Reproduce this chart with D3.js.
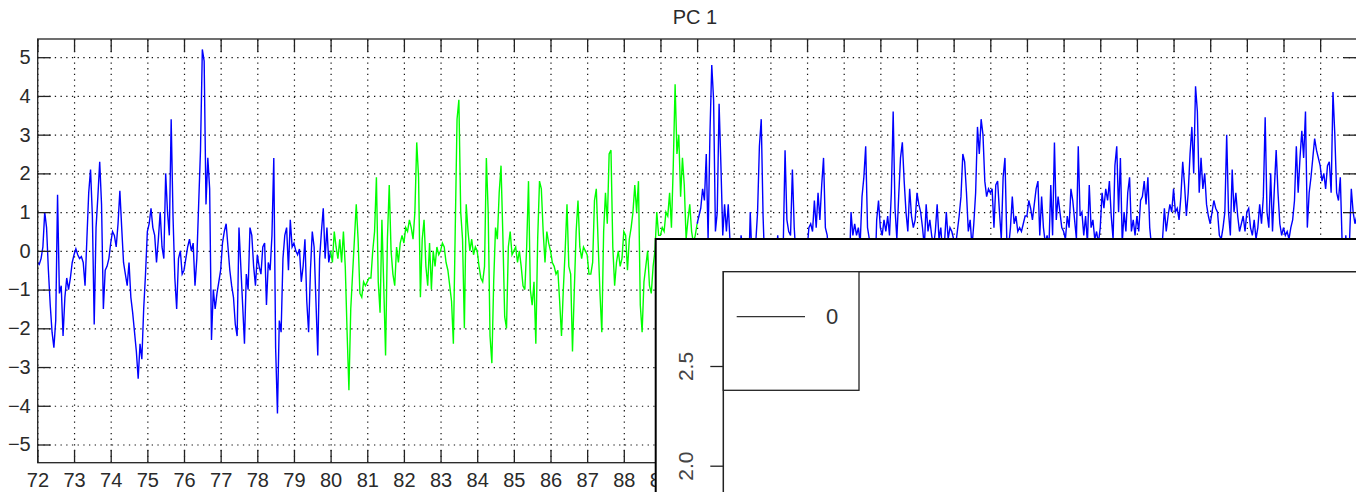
<!DOCTYPE html>
<html>
  <head>
    <meta charset="utf-8">
    <title>PC 1</title>
    <style>
      body {
        margin: 0;
        background: #fff;
      }
      svg {
        display: block;
        font-family: 'Liberation Sans', Arial, sans-serif;
      }
      .title {
        font-size: 20px;
        fill: #2a2a2a;
      }
      .axis path.domain {
        stroke: none;
      }
      .axis .tick line {
        stroke: #222;
        stroke-width: 1.3;
      }
      .axis .tick text {
        font-size: 20px;
        fill: #2a2a2a;
      }
      .grid path.domain {
        stroke: none;
      }
      .grid .tick line {
        stroke: #111;
        stroke-width: 1.2;
        stroke-dasharray: 1.3, 4.4;
      }
      .inset .tick text {
        font-size: 21px;
        fill: #444;
      }
    </style>
  </head>
  <body>
    <svg width="1356" height="492"></svg>
    <script src="https://d3js.org/d3.v7.min.js"></script>
    <script>
      // PC 1 scores, 20 samples per year
      const step = 0.05;

      const blueEarlyStart = 72;
      const blueEarly = [
        -0.3, -0.35, -0.2, 0.1, 1.0, 0.6, -0.5, -1.4, -2.1, -2.5, -1.8, 1.45, -1.1, -0.9, -2.2, -1.2, -0.7, -1.0, -0.7, -0.3,
        -0.1, 0.05, -0.1, -0.2, -0.15, -0.3, -0.9, 0.3, 1.5, 2.1, 0.9, -1.9, 0.6, 1.4, 2.3, 1.2, -1.5, -0.5, -0.4, -0.2,
        0.2, 0.5, 0.4, 0.1, 0.7, 1.55, 0.6, -0.3, -0.6, -0.9, -0.3, -1.2, -1.6, -2.1, -2.6, -3.3, -2.4, -2.8, -1.5, -0.6,
        0.5, 0.7, 1.1, 0.6, 0.4, -0.3, 0.3, 1.0, 0.1, -0.2, 2.0, 1.0, 0.4, 3.4, 0.9, -0.7, -1.5, -0.2, 0.0, -0.6,
        -0.5, -0.2, 0.1, 0.3, 0.0, 0.2, -0.9, -0.2, 1.2, 2.6, 5.2, 4.9, 1.2, 2.4, 1.6, -2.3, -1.0, -1.5, -1.1, -0.8,
        -0.5, 0.2, 0.5, 0.7, 0.1, -0.5, -0.9, -1.2, -1.9, -2.2, 0.6, -0.4, -1.4, -2.4, -0.6, -1.0, 0.6, 0.4, -0.4, -0.9,
        -0.1, -0.4, -0.6, 0.1, 0.2, -1.4, -0.3, -0.5, 0.4, 2.4, -2.5, -4.2, -1.8, -2.1, -0.2, 0.4, 0.6, -0.5, 0.8, 0.1,
        0.2, 0.0, -0.1, 0.05, -0.8, -0.4, 0.3, -1.3, -2.1, -0.5, 0.5, 0.1, -1.3, -2.7, -0.2, 0.5, 1.1, -0.2, 0.6, -0.3
      ];

      const greenStart = 80;
      const green = [
        0.0, -0.3, 0.5, 0.1, -0.2, 0.3, -0.3, 0.5, -0.4, -2.1, -3.6, -1.5, -0.6, 0.3, 1.2, 0.3, -1.1, -1.2, -0.8, -0.9,
        -0.8, -0.7, -0.7, 0.0, 0.5, 1.9, -0.8, -1.6, 0.8, -0.9, -2.7, 0.3, 1.7, 0.0, -0.6, -0.9, 0.1, -0.3, 0.2, 0.4,
        0.2, 0.6, 0.5, 0.8, 0.6, 0.3, 1.0, 2.8, 1.9, -1.2, 0.3, 0.8, -0.4, -0.9, 0.2, -1.0, 0.0, -0.4, 0.1, -0.1,
        0.0, 0.2, 0.1, -0.3, -0.5, -0.9, -1.3, -2.4, 0.5, 3.4, 3.9, 1.0, 0.3, -2.0, 1.2, 0.5, 0.0, 0.3, -0.1, 0.1,
        0.0, -0.4, -0.7, -0.8, -0.4, 2.4, 1.0, -2.2, -2.9, -0.8, 0.6, 0.3, 1.5, 2.2, 0.4, -1.7, -2.0, 0.1, 0.5, -0.1,
        0.0, 0.1, -0.3, 0.0, -0.4, -0.9, -1.0, 0.1, 1.8, -1.0, -1.4, -0.8, -2.4, 0.3, 1.8, 1.6, 0.5, -0.3, 0.5, 0.2,
        0.0, -0.3, -0.4, -0.6, -0.5, -1.3, -2.2, -1.0, 0.0, 1.2, -0.4, -0.6, -2.6, -1.0, 0.5, 1.3, 0.1, -0.2, 0.1, 0.0,
        -0.1, -0.6, -0.6, -0.3, 1.3, 1.6, 0.2, -1.1, -2.1, 0.5, 1.5, 0.7, 2.5, 2.6, 0.1, -0.9, -0.3, 0.0, -0.4, -0.2,
        0.5, 0.4, -0.5, 0.3, 0.6, 1.0, 1.7, 1.0, 1.8, -1.4, -2.1, -0.8, -0.4, 0.0, -0.9, -1.1, -0.4, 0.0, 1.0, 0.4,
        0.4, 0.6, 0.5, 1.0, 0.9, 1.5, 0.6, 2.2, 4.3, 2.5, 3.0, 1.4, 2.4, 1.7, 0.3, 0.8, 1.2, 0.5, 0.2, 0.4
      ];

      const blueLateStart = 90;
      const blueLate = [
        0.7, 0.9, 1.1, 1.6, 1.3, 2.5, 0.3, 3.0, 4.8, 3.9, 0.5, 1.0, 3.8, 2.2, 0.4, 1.2, 0.5, 1.2, 0.2, -0.4,
        -0.5, -0.8, -0.2, -0.4, 0.4, 0.0, -0.6, -0.2, -0.9, 1.0, -0.3, -1.2, 0.2, 1.0, 2.7, 3.4, 0.9, -0.5, -1.0, -0.4,
        -0.6, -1.0, -0.5, -0.2, 0.4, -0.3, -0.8, 0.1, 2.6, 0.8, 0.5, 0.4, 2.1, 0.6, -0.2, -1.0, -0.4, -0.7, -0.2, 0.0,
        0.0, 0.6, 0.7, 0.5, 1.3, 0.6, 1.5, 0.8, 1.7, 2.4, 0.6, 0.4, -0.3, -0.9, -1.2, -0.6, -0.8, -0.3, -1.0, -0.4,
        -0.5, -1.0, -0.2, -0.6, 1.0, 0.4, 0.7, 0.4, 0.6, 0.2, 1.4, 1.9, 2.7, 0.6, 0.3, -0.5, -0.2, -0.8, 0.8, 1.3,
        0.6, 0.4, 0.8, 0.5, 0.9, 0.4, 1.5, 3.6, 1.1, 0.3, 1.4, 2.4, 2.8, 1.8, 1.0, 0.5, 1.6, 0.9, 0.6, 0.8,
        1.5, 1.2, 1.0, 0.6, 0.1, 1.2, 0.5, 0.8, 0.4, 0.1, 0.5, 1.2, 0.3, 0.6, -0.1, 0.2, 1.0, 0.3, 0.6, 0.5,
        0.3, 0.1, 0.5, 0.9, 1.4, 2.5, 2.3, 1.5, 0.5, 0.8, 0.1, 0.7, 1.5, 3.2, 2.5, 3.4, 3.0, 1.8, 1.4, 1.6,
        1.5, 1.6, 0.6, 1.7, 1.8, 1.0, 0.3, 1.9, 2.4, 0.3, 0.1, 0.6, 1.4, 0.7, 0.9, 0.5, 0.6, 0.5, 0.7, 0.9,
        0.9, 1.3, 1.1, 0.8, 1.2, 1.6, 1.8, 0.4, 1.4, 0.6, 0.2, 0.4, 0.1, 1.7, 0.4, 2.8, 0.8, 1.4, 1.0, 0.6,
        0.5, 0.3, 0.9, 0.6, 1.6, 1.3, 0.8, 0.3, 2.7, 0.9, 1.0, 0.4, 0.9, 0.2, 1.7, 0.6, 0.8, 0.3, 0.5, 0.2,
        0.6, 1.5, 1.1, 1.6, 1.3, 1.8, 0.9, 0.3, 2.2, 2.7, 1.0, 2.4, 0.2, 1.0, 0.5, 1.5, 1.9, 0.5, 0.8, 0.4,
        0.9, 0.5, 1.3, 1.4, 1.8, 1.2, 1.9, 0.6, 0.1, -0.2, -0.3, 0.0, -0.5, 0.0, 0.3, 1.1, 0.5, 0.9, 1.2, 1.0,
        1.6, 1.0, 1.1, 0.8, 1.4, 2.3, 1.7, 0.9, 1.5, 2.5, 3.2, 2.0, 4.25, 3.6, 1.5, 2.4, 1.6, 2.0, 1.2, 0.9,
        0.7, 1.0, 1.3, 1.1, 1.0, 0.4, 0.3, 0.6, 1.0, 3.0, 1.0, 0.4, 2.1, 1.0, 1.5, 0.9, 0.5, 0.7, 0.9, 0.5,
        1.0, 1.1, 0.6, 0.4, 0.8, 0.3, 0.6, 1.2, 0.7, 1.4, 3.45, 1.0, 0.6, 2.0, 0.5, 1.6, 2.6, 1.5, 0.7, 0.4,
        0.6, 0.4, 0.5, 0.3, 0.6, 0.8, 1.3, 2.7, 1.5, 2.4, 3.1, 2.4, 3.6, 0.6, 1.5, 1.9, 2.4, 2.9, 2.6, 2.4,
        2.2, 1.8, 2.0, 1.6, 2.2, 2.3, 1.5, 4.1, 3.0, 1.5, 1.3, 1.9, 0.2, -0.5, 0.4, -0.3, 0.2, 1.6, 1.0, 0.7,
        0.9
      ];

      const yearTicks = d3.range(72, 109);
      const lastVisibleYearLabel = 89; // the panel on top hides the later labels
      const valueTicks = d3.range(-5, 6);
      const insetTicks = [2.0, 2.5];
      const legendLabels = ['0'];

      const svg = d3.select('svg');

      const plotLeft = 37.7, plotRight = 1356.8, plotTop = 39, plotBottom = 462.7;

      const x = d3.scaleLinear()
        .domain([72, 108])
        .range([37.4, 1356.8]);
      const y = d3.scaleLinear()
        .domain([-5.47, 5.47])
        .range([plotBottom, plotTop]);

      svg.append('text')
        .attr('class', 'title')
        .attr('x', 695)
        .attr('y', 24)
        .attr('text-anchor', 'middle')
        .text('PC 1');

      // dotted grid
      svg.append('g')
        .attr('class', 'grid')
        .attr('transform', `translate(0,${plotBottom})`)
        .call(d3.axisBottom(x).tickValues(yearTicks).tickSize(-(plotBottom - plotTop)).tickFormat(''));
      svg.append('g')
        .attr('class', 'grid')
        .attr('transform', `translate(${plotLeft},0)`)
        .call(d3.axisLeft(y).tickValues(valueTicks).tickSize(-(plotRight - plotLeft)).tickFormat(''));

      // series
      const toPoints = (values, start, next) => {
        const pts = values.map((v, i) => [start + i * step, v]);
        if (next) pts.push(next);
        return pts;
      };
      const line = d3.line()
        .x(d => x(d[0]))
        .y(d => y(d[1]));

      svg.append('clipPath')
        .attr('id', 'plot-clip')
        .append('rect')
        .attr('x', plotLeft).attr('y', plotTop)
        .attr('width', plotRight - plotLeft).attr('height', plotBottom - plotTop);

      const series = [
        { pts: toPoints(blueEarly, blueEarlyStart, [greenStart, green[0]]), color: '#0000ff' },
        { pts: toPoints(green, greenStart, [blueLateStart, blueLate[0]]), color: '#00ff00' },
        { pts: toPoints(blueLate, blueLateStart), color: '#0000ff' }
      ];

      svg.append('g')
        .attr('clip-path', 'url(#plot-clip)')
        .selectAll('path')
        .data(series)
        .enter().append('path')
          .attr('d', d => line(d.pts))
          .attr('fill', 'none')
          .attr('stroke', d => d.color)
          .attr('stroke-width', 1.4)
          .attr('stroke-linejoin', 'miter');

      // axes, ticks pointing inward
      svg.append('g')
        .attr('class', 'axis')
        .attr('transform', `translate(0,${plotBottom})`)
        .call(d3.axisBottom(x).tickValues(yearTicks).tickSize(-13).tickPadding(10)
          .tickFormat(d => d <= lastVisibleYearLabel ? d3.format('d')(d) : ''));
      svg.append('g')
        .attr('class', 'axis')
        .attr('transform', `translate(0,${plotTop})`)
        .call(d3.axisTop(x).tickValues(yearTicks).tickSize(-13).tickFormat(''));
      svg.append('g')
        .attr('class', 'axis')
        .attr('transform', `translate(${plotLeft},0)`)
        .call(d3.axisLeft(y).tickValues(valueTicks).tickSize(-13).tickPadding(7).tickFormat(d3.format('d')));
      svg.append('g')
        .attr('class', 'axis')
        .attr('transform', `translate(${plotRight},0)`)
        .call(d3.axisRight(y).tickValues(valueTicks).tickSize(-13).tickFormat(''));

      svg.append('rect')
        .attr('x', plotLeft).attr('y', plotTop)
        .attr('width', plotRight - plotLeft).attr('height', plotBottom - plotTop)
        .attr('fill', 'none')
        .attr('stroke', '#222')
        .attr('stroke-width', 1.3);

      // overlaid panel
      const panel = svg.append('g');
      panel.append('rect')
        .attr('x', 655.7).attr('y', 239)
        .attr('width', 760).attr('height', 300)
        .attr('fill', '#fff')
        .attr('stroke', '#000')
        .attr('stroke-width', 2);

      const insetLeft = 723.3, insetTop = 271.7;
      const yInset = d3.scaleLinear()
        .domain([2.0, 2.5])
        .range([465.7, 366]);

      panel.append('path')
        .attr('d', `M${insetLeft},540V${insetTop}H1400`)
        .attr('fill', 'none')
        .attr('stroke', '#222')
        .attr('stroke-width', 1.5);

      const insetAxis = panel.append('g')
        .attr('class', 'axis inset')
        .attr('transform', `translate(${insetLeft},0)`)
        .call(d3.axisLeft(yInset).tickValues(insetTicks).tickSize(13).tickFormat(d3.format('.1f')));
      insetAxis.selectAll('.tick text')
        .attr('x', null).attr('dy', null)
        .attr('text-anchor', 'middle')
        .attr('transform', 'translate(-30,0) rotate(-90)');

      const legend = panel.append('g');
      legend.append('rect')
        .attr('x', insetLeft).attr('y', insetTop)
        .attr('width', 135.7).attr('height', 118.6)
        .attr('fill', '#fff')
        .attr('stroke', '#222')
        .attr('stroke-width', 1.3);
      legend.selectAll('line')
        .data(legendLabels)
        .enter().append('line')
          .attr('x1', 736.7).attr('x2', 805)
          .attr('y1', (d, i) => 316.7 + i * 30).attr('y2', (d, i) => 316.7 + i * 30)
          .attr('stroke', '#333')
          .attr('stroke-width', 1.3);
      legend.selectAll('text')
        .data(legendLabels)
        .enter().append('text')
          .attr('x', 832)
          .attr('y', (d, i) => 316.7 + i * 30)
          .attr('dy', '0.35em')
          .attr('text-anchor', 'middle')
          .style('font-size', '22px')
          .style('fill', '#333')
          .text(d => d);
    </script>
  </body>
</html>
